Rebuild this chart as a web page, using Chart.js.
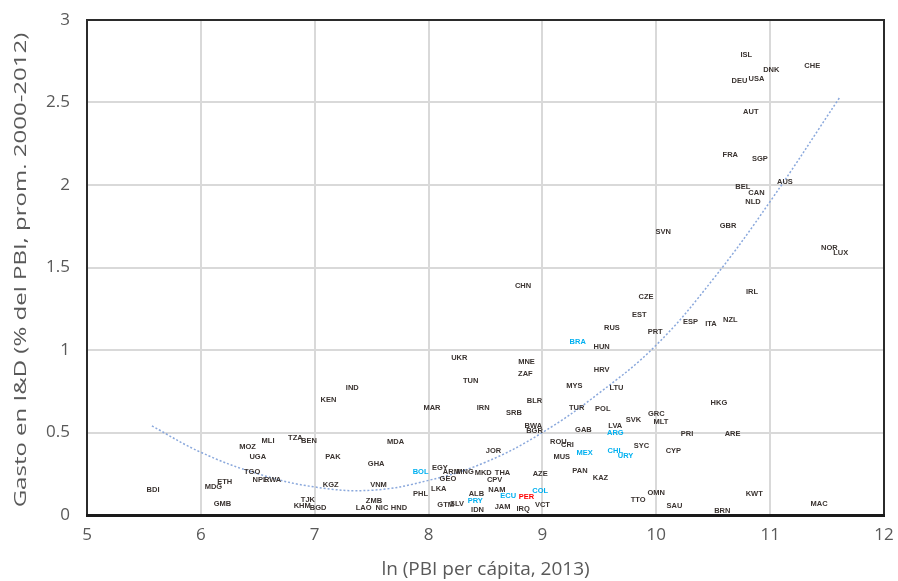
<!DOCTYPE html>
<html>
<head>
<meta charset="utf-8">
<script src="https://cdn.jsdelivr.net/npm/chart.js@4/dist/chart.umd.min.js"></script>
<style>
  html, body { margin: 0; padding: 0; background: #ffffff; }
  #wrap { width: 898px; height: 581px; }
</style>
</head>
<body>
<div id="wrap"><canvas id="c" width="898" height="581"></canvas></div>
<script>
// Country codes, log GDP per capita (2013) and R&D spending (% of GDP, 2000-2012 average)
const codes = [
  'BDI','MDG','ETH','GMB','MLI','MOZ','UGA','TGO','NPL','RWA',
  'IND','KEN','MAR','TZA','BEN','MDA','PAK','GHA','KGZ','VNM',
  'BOL','EGY','ARM','MNG','GEO','LKA','PHL','ZMB','TJK','KHM',
  'BGD','LAO','NIC','HND','GTM','SLV','PRY','ALB','IDN','UKR',
  'MNE','ZAF','TUN','MYS','BLR','IRN','SRB','TUR','BWA','BGR',
  'GAB','ROU','CRI','MUS','MEX','JOR','MKD','THA','CPV','AZE',
  'PAN','COL','NAM','ECU','PER','VCT','JAM','IRQ','HUN','HRV',
  'LTU','POL','SVK','GRC','MLT','LVA','ARG','PRI','ARE','HKG',
  'SYC','CHL','URY','CYP','KAZ','OMN','TTO','SAU','BRN','KWT',
  'MAC','CHN','BRA','SVN','GBR','IRL','CZE','EST','RUS','PRT',
  'ESP','ITA','NZL','ISL','DNK','CHE','DEU','USA','AUT','FRA',
  'SGP','AUS','BEL','CAN','NLD','NOR','LUX'
];
const lnGdp = [
  5.58, 6.11, 6.21, 6.19, 6.59, 6.41, 6.50, 6.45, 6.52, 6.63,
  7.33, 7.12, 8.03, 6.83, 6.95, 7.71, 7.16, 7.54, 7.14, 7.56,
  7.93, 8.10, 8.20, 8.32, 8.17, 8.09, 7.93, 7.52, 6.94, 6.89,
  7.03, 7.43, 7.59, 7.74, 8.15, 8.25, 8.41, 8.42, 8.43, 8.27,
  8.86, 8.85, 8.37, 9.28, 8.93, 8.48, 8.75, 9.30, 8.92, 8.93,
  9.36, 9.14, 9.22, 9.17, 9.37, 8.57, 8.48, 8.65, 8.58, 8.98,
  9.33, 8.98, 8.60, 8.70, 8.86, 9.00, 8.65, 8.83, 9.52, 9.52,
  9.65, 9.53, 9.80, 10.00, 10.04, 9.64, 9.64, 10.27, 10.67, 10.55,
  9.87, 9.64, 9.73, 10.15, 9.51, 10.00, 9.84, 10.16, 10.58, 10.86,
  11.43, 8.83, 9.31, 10.06, 10.63, 10.84, 9.91, 9.85, 9.61, 9.99,
  10.30, 10.48, 10.65, 10.79, 11.01, 11.37, 10.73, 10.88, 10.83, 10.65,
  10.91, 11.13, 10.76, 10.88, 10.85, 11.52, 11.62
];
const rdShare = [
  0.15, 0.17, 0.20, 0.067, 0.45, 0.41, 0.35, 0.26, 0.21, 0.21,
  0.77, 0.70, 0.65, 0.47, 0.45, 0.44, 0.35, 0.31, 0.18, 0.18,
  0.26, 0.285, 0.26, 0.26, 0.22, 0.16, 0.13, 0.085, 0.09, 0.055,
  0.04, 0.04, 0.04, 0.04, 0.06, 0.07, 0.085, 0.13, 0.03, 0.95,
  0.93, 0.855, 0.81, 0.78, 0.69, 0.65, 0.62, 0.65, 0.54, 0.51,
  0.515, 0.44, 0.425, 0.35, 0.375, 0.39, 0.255, 0.255, 0.21, 0.25,
  0.27, 0.145, 0.15, 0.115, 0.11, 0.06, 0.05, 0.035, 1.02, 0.88,
  0.77, 0.64, 0.575, 0.61, 0.565, 0.54, 0.50, 0.49, 0.49, 0.68,
  0.42, 0.39, 0.36, 0.39, 0.225, 0.135, 0.09, 0.055, 0.025, 0.13,
  0.065, 1.39, 1.05, 1.715, 1.75, 1.35, 1.32, 1.21, 1.135, 1.11,
  1.17, 1.16, 1.18, 2.79, 2.70, 2.72, 2.63, 2.64, 2.44, 2.18,
  2.16, 2.02, 1.99, 1.95, 1.90, 1.62, 1.59
];
// Latin American countries and the highlighted country
const latinAmerica = ['BOL','PRY','MEX','COL','ECU','ARG','CHL','URY','BRA'];
const highlighted = ['PER'];

// Polynomial trend curve
const trendX = [5.57, 6.0, 6.5, 7.0, 7.5, 8.0, 8.5, 9.0, 9.5, 10.0, 10.5, 11.0, 11.61];
const trendY = [0.54, 0.38, 0.25, 0.17, 0.15, 0.21, 0.32, 0.50, 0.74, 1.03, 1.43, 1.90, 2.53];

// Axis ticks
const xTicks = [5, 6, 7, 8, 9, 10, 11, 12];
const yTicks = [0, 0.5, 1, 1.5, 2, 2.5, 3];

const points = codes.map((c, i) => ({ x: lnGdp[i], y: rdShare[i] }));
const trend = trendX.map((x, i) => ({ x: x, y: trendY[i] }));

function labelColor(code) {
  if (highlighted.includes(code)) return '#ff0000';
  if (latinAmerica.includes(code)) return '#00b0f0';
  return '#3a3330';
}

// Country codes drawn in place of markers
const codeLabels = {
  id: 'codeLabels',
  afterDatasetsDraw(chart) {
    const ctx = chart.ctx;
    const meta = chart.getDatasetMeta(1);
    ctx.save();
    ctx.font = 'bold 7.5px "Liberation Sans", Arial, sans-serif';
    ctx.textAlign = 'center';
    ctx.textBaseline = 'middle';
    meta.data.forEach((el, i) => {
      ctx.fillStyle = labelColor(codes[i]);
      ctx.fillText(codes[i], el.x, el.y);
    });
    ctx.restore();
  }
};

// Plot frame and vertical axis title
const frame = {
  id: 'frame',
  afterDraw(chart) {
    const { ctx, chartArea: a } = chart;
    ctx.save();
    ctx.strokeStyle = '#2b2b2b';
    ctx.lineWidth = 2;
    ctx.strokeRect(a.left, a.top, a.right - a.left, a.bottom - a.top);
    ctx.lineWidth = 3;
    ctx.strokeStyle = '#1a1a1a';
    ctx.beginPath();
    ctx.moveTo(a.left - 1, a.bottom + 0.5);
    ctx.lineTo(a.right + 1, a.bottom + 0.5);
    ctx.stroke();
    ctx.restore();

    ctx.save();
    ctx.translate(21, 270);
    ctx.rotate(-Math.PI / 2);
    ctx.scale(1.5, 1);
    ctx.fillStyle = '#595959';
    ctx.font = '16px "Open Sans", sans-serif';
    ctx.textAlign = 'center';
    ctx.textBaseline = 'middle';
    ctx.fillText('Gasto en I&D (% del PBI, prom. 2000-2012)', 0, 0);
    ctx.restore();
  }
};

new Chart(document.getElementById('c'), {
  data: {
    datasets: [
      {
        type: 'line',
        data: trend,
        borderColor: '#8aa8dc',
        borderWidth: 1.5,
        borderDash: [2, 2],
        pointRadius: 0,
        tension: 0.4,
        fill: false
      },
      {
        type: 'scatter',
        data: points,
        pointRadius: 0,
        pointHoverRadius: 0,
        showLine: false
      }
    ]
  },
  options: {
    responsive: false,
    animation: false,
    layout: { padding: { left: 0, right: 14, top: 20, bottom: 0 } },
    plugins: { legend: { display: false }, tooltip: { enabled: false } },
    scales: {
      x: {
        type: 'linear',
        min: xTicks[0],
        max: xTicks[xTicks.length - 1],
        afterBuildTicks(s) { s.ticks = xTicks.map(v => ({ value: v })); },
        afterFit(s) { s.height = 66; s.paddingLeft = 0; s.paddingRight = 0; },
        grid: { color: '#d9d9d9', lineWidth: 2, drawTicks: false },
        border: { display: false },
        ticks: {
          padding: 10,
          color: '#595959',
          font: { family: '"Open Sans", sans-serif', size: 17 },
          callback: v => String(v)
        },
        title: {
          display: true,
          text: 'ln (PBI per cápita, 2013)',
          color: '#595959',
          font: { family: '"Open Sans", sans-serif', size: 19 },
          padding: { top: 0, bottom: 0 }
        }
      },
      y: {
        type: 'linear',
        min: yTicks[0],
        max: yTicks[yTicks.length - 1],
        afterBuildTicks(s) { s.ticks = yTicks.map(v => ({ value: v })); },
        afterFit(s) { s.width = 87; s.paddingTop = 0; s.paddingBottom = 0; },
        grid: { color: '#d9d9d9', lineWidth: 2, drawTicks: false },
        border: { display: false },
        ticks: {
          padding: 17,
          color: '#595959',
          font: { family: '"Open Sans", sans-serif', size: 17 },
          callback: v => String(v)
        }
      }
    }
  },
  plugins: [codeLabels, frame]
});
</script>
</body>
</html>
